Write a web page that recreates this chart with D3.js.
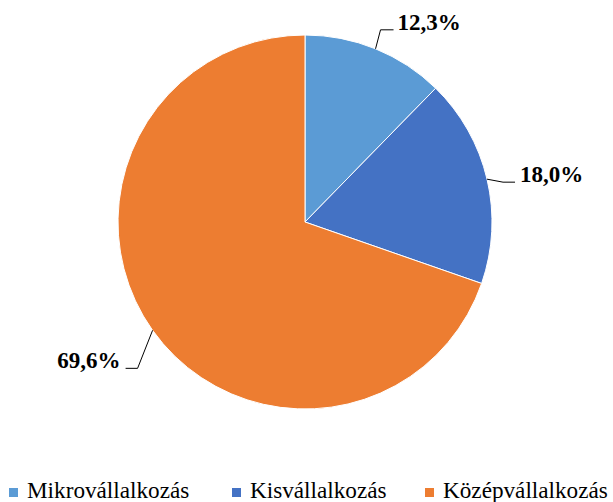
<!DOCTYPE html>
<html><head><meta charset="utf-8">
<script src="https://cdn.jsdelivr.net/npm/d3@7"></script>
<style>body{margin:0;background:#fff;}svg{display:block;}
text{font-family:"Liberation Serif","Times New Roman",Times,serif;}</style>
</head><body>
<svg id="c" width="613" height="502"></svg>
<script>
const categories = ["Mikrovállalkozás", "Kisvállalkozás", "Középvállalkozás"];
const values = [12.3, 18.0, 69.6];
const labels = ["12,3%", "18,0%", "69,6%"];
const colors = ["#5B9BD5", "#4472C4", "#ED7D31"];

const svg = d3.select("#c");
const cx = 305, cy = 222, R = 187;
const g = svg.append("g").attr("transform", `translate(${cx},${cy})`);
const pie = d3.pie().sort(null).value(d => d);
const arcs = pie(values);
const arc = d3.arc().innerRadius(0).outerRadius(R);
const edge = d3.arc().innerRadius(R).outerRadius(R);

g.selectAll("path.s").data(arcs).enter().append("path")
  .attr("d", arc).attr("fill", (d, i) => colors[i])
  .attr("stroke", "#fff").attr("stroke-width", 1);

// leader offsets: elbow, end, text, anchor
const leader = [
  {e: [5, -19], f: [18, -19], t: [22, -19], a: "start"},
  {e: [16, 3], f: [28, 3], t: [33, 3], a: "start"},
  {e: [-15, 38], f: [-27, 38], t: [-32, 38], a: "end"}
];
arcs.forEach((d, i) => {
  const p = edge.centroid(d);
  const L = leader[i];
  g.append("polyline")
    .attr("points", [p, [p[0] + L.e[0], p[1] + L.e[1]], [p[0] + L.f[0], p[1] + L.f[1]]].map(q => q.join(",")).join(" "))
    .attr("fill", "none").attr("stroke", "#000").attr("stroke-width", 1);
  g.append("text")
    .attr("x", p[0] + L.t[0]).attr("y", p[1] + L.t[1])
    .attr("text-anchor", L.a)
    .attr("font-weight", "bold").attr("font-size", 23)
    .attr("fill", "#000").text(labels[i]);
});

// legend
const legX = [9, 232, 425];
const lg = svg.append("g");
categories.forEach((c, i) => {
  lg.append("rect").attr("x", legX[i]).attr("y", 488).attr("width", 9).attr("height", 9).attr("fill", colors[i]);
  lg.append("text").attr("x", legX[i] + 18).attr("y", 498)
    .attr("font-size", 23.2).attr("fill", "#000").text(c);
});
</script>
</body></html>
